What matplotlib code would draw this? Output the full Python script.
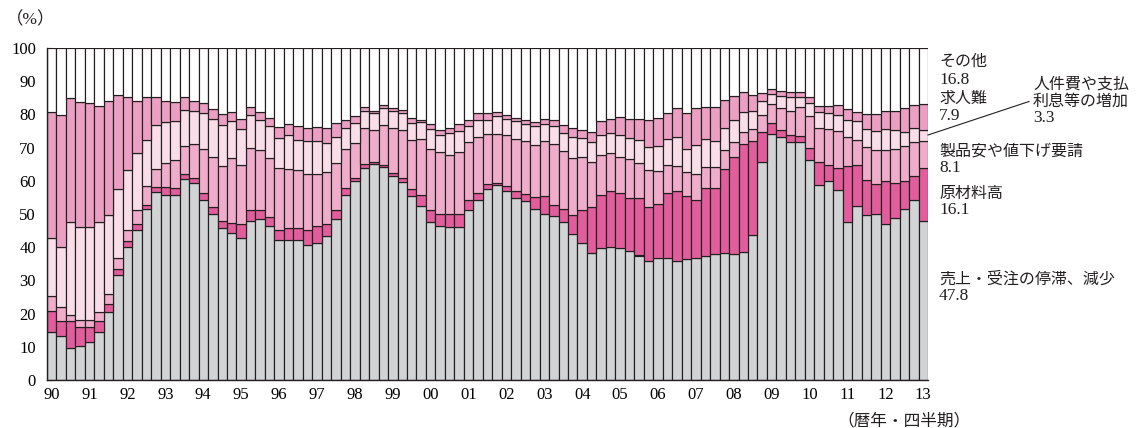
import numpy as np
import matplotlib
matplotlib.use("Agg")
import matplotlib.pyplot as plt

plt.rcParams['font.family'] = ['Liberation Serif', 'Noto Sans CJK JP', 'DejaVu Sans']

# ---- data (1990Q1 .. 2013Q1, percent) ----
year_labels = ['90', '91', '92', '93', '94', '95', '96', '97', '98', '99', '00',
               '01', '02', '03', '04', '05', '06', '07', '08', '09', '10', '11', '12', '13']

sales = [14.5, 13.3, 9.5, 10.3, 11.5, 14.5, 20.6, 31.5, 40.0, 45.2, 51.4, 56.6,
         55.8, 55.8, 60.6, 59.3, 54.2, 50.0, 45.7, 44.3, 42.9, 48.0, 48.4, 46.4,
         42.1, 42.1, 42.1, 40.6, 41.3, 43.3, 48.4, 55.6, 59.8, 63.8, 65.1, 64.1,
         61.3, 59.5, 55.3, 52.5, 47.7, 46.4, 46.0, 46.0, 51.2, 54.2, 57.5, 58.6,
         56.8, 54.7, 53.9, 51.5, 50.0, 49.5, 47.6, 43.9, 41.3, 38.3, 39.8, 40.1,
         39.8, 39.0, 37.5, 35.9, 36.6, 36.6, 35.9, 36.3, 36.6, 37.3, 37.9, 38.2,
         37.9, 38.6, 43.8, 65.6, 74.2, 73.1, 71.6, 71.6, 66.2, 58.6, 59.8, 57.3,
         47.7, 52.4, 49.7, 50.0, 46.9, 48.7, 51.5, 54.2, 47.8]

raw_material = [6.4, 4.6, 8.3, 5.6, 4.4, 3.3, 2.3, 2.0, 1.8, 1.7, 1.3, 1.5,
                2.3, 2.0, 1.4, 1.5, 2.1, 2.2, 2.2, 3.1, 4.0, 3.1, 2.8, 2.8,
                3.1, 3.6, 3.6, 4.6, 5.1, 3.6, 2.8, 2.2, 1.0, 1.4, 0.7, 0.7,
                0.9, 1.3, 2.2, 3.1, 3.5, 3.6, 4.0, 4.0, 3.0, 2.1, 1.5, 0.7,
                1.5, 2.1, 2.1, 3.7, 5.5, 3.2, 3.9, 5.8, 9.9, 13.7, 15.8, 16.9,
                16.5, 15.7, 17.2, 16.1, 16.4, 19.7, 21.1, 19.0, 17.6, 20.5, 19.9, 25.4,
                29.4, 32.5, 28.1, 9.1, 3.3, 2.1, 2.3, 1.8, 3.7, 7.1, 5.0, 6.7,
                16.8, 12.4, 10.6, 9.1, 12.9, 10.6, 8.3, 7.1, 16.1]

price_cut = [4.4, 4.0, 1.8, 2.3, 2.3, 2.8, 3.1, 3.1, 3.4, 4.2, 5.6, 5.4,
             7.2, 8.4, 8.4, 10.4, 13.3, 15.1, 16.7, 19.5, 17.9, 18.8, 18.0, 17.7,
             18.8, 17.9, 17.5, 16.9, 15.7, 15.7, 14.1, 11.8, 10.6, 10.8, 9.4, 11.9,
             13.8, 14.4, 14.9, 16.9, 18.4, 18.6, 17.7, 18.8, 17.4, 16.8, 15.2, 14.9,
             15.6, 15.9, 15.9, 15.7, 16.4, 18.5, 17.4, 17.2, 16.1, 13.7, 12.1, 11.5,
             11.0, 11.9, 10.6, 11.4, 9.9, 8.5, 7.5, 7.5, 7.9, 6.3, 6.3, 5.8,
             4.3, 3.6, 3.6, 5.1, 5.5, 6.6, 7.1, 8.8, 9.6, 10.1, 10.7, 11.0,
             8.6, 7.5, 9.8, 10.1, 9.6, 10.4, 10.6, 10.3, 8.1]

labor_cost = [17.5, 18.2, 28.0, 27.9, 27.9, 27.0, 23.6, 20.9, 18.2, 17.4, 14.1, 13.2,
              12.3, 11.7, 11.0, 9.8, 10.7, 11.4, 12.2, 11.1, 10.8, 9.9, 9.2, 9.5,
              8.9, 10.2, 9.1, 9.8, 9.8, 8.8, 7.8, 6.2, 6.0, 5.0, 5.1, 5.3,
              5.0, 5.1, 5.1, 5.2, 6.0, 5.3, 6.6, 6.1, 4.9, 5.2, 4.1, 5.2,
              4.8, 5.2, 5.3, 5.6, 5.3, 5.2, 5.4, 6.3, 5.6, 6.0, 6.2, 5.9,
              6.6, 6.3, 7.1, 6.7, 7.5, 7.9, 8.6, 6.8, 8.6, 8.6, 8.0, 6.6,
              6.6, 6.1, 5.5, 4.2, 3.1, 3.8, 4.1, 2.9, 4.0, 4.9, 4.8, 4.8,
              5.1, 5.7, 5.4, 5.7, 6.1, 5.5, 4.3, 4.2, 3.3]

recruit = [37.9, 39.7, 37.2, 37.6, 37.2, 34.9, 34.5, 28.3, 21.9, 15.6, 12.9, 8.6,
           6.4, 5.8, 3.9, 3.0, 3.0, 3.0, 3.4, 2.8, 2.9, 2.4, 2.3, 2.6,
           3.4, 3.2, 4.3, 3.9, 4.4, 4.4, 4.2, 2.4, 2.0, 1.2, 0.7, 0.7,
           0.9, 1.1, 1.3, 0.6, 1.4, 1.5, 1.5, 2.3, 1.8, 2.0, 2.0, 1.4,
           1.1, 1.1, 1.1, 1.3, 1.5, 1.8, 2.4, 2.6, 2.3, 3.0, 4.1, 4.3,
           5.3, 5.8, 6.3, 8.2, 8.6, 7.6, 8.7, 10.7, 11.1, 9.5, 10.1, 8.2,
           7.2, 5.8, 4.9, 2.4, 1.5, 1.5, 1.5, 1.5, 1.6, 1.8, 2.2, 3.0,
           3.5, 2.7, 4.7, 5.3, 5.5, 5.8, 7.1, 7.0, 7.9]

other = [19.3, 20.2, 15.2, 16.3, 16.7, 17.5, 15.9, 14.2, 14.7, 15.9, 14.7, 14.7,
         16.0, 16.3, 14.7, 16.0, 16.7, 18.3, 19.8, 19.2, 21.5, 17.8, 19.3, 21.0,
         23.7, 23.0, 23.4, 24.2, 23.7, 24.2, 22.7, 21.8, 20.6, 17.8, 19.0, 17.3,
         18.1, 18.6, 21.2, 21.7, 23.0, 24.6, 24.2, 22.8, 21.7, 19.7, 19.7, 19.2,
         20.2, 21.0, 21.7, 22.2, 21.3, 21.8, 23.3, 24.2, 24.8, 25.3, 22.0, 21.3,
         20.8, 21.3, 21.3, 21.7, 21.0, 19.7, 18.2, 19.7, 18.2, 17.8, 17.8, 15.8,
         14.6, 13.4, 14.1, 13.6, 12.4, 12.9, 13.4, 13.4, 14.9, 17.5, 17.5, 17.2,
         18.3, 19.3, 19.8, 19.8, 19.0, 19.0, 18.2, 17.2, 16.8]

series = [sales, raw_material, price_cut, labor_cost, recruit, other]
colors = ['#d1d3d5', '#e15d9b', '#efadcb', '#f9dde8', '#eba0c3', '#ffffff']

# ---- figure ----
W, H = 1136, 428
fig = plt.figure(figsize=(W / 100, H / 100), dpi=100)
ax = fig.add_axes([47 / W, 1 - 380 / H, (928 - 47) / W, (380 - 48) / H])

x = np.arange(len(sales))
bottom = np.zeros(len(sales))
for vals, c in zip(series, colors):
    v = np.array(vals)
    ax.bar(x, v, width=1.0, bottom=bottom, color=c, edgecolor='#231f20',
           linewidth=0.85, align='center', zorder=2)
    bottom = bottom + v

ax.set_xlim(-0.5, len(sales) - 0.5)
ax.set_ylim(0, 100)
ax.set_yticks(np.arange(0, 101, 10))
ax.set_xticks(np.arange(0, len(sales), 4))
ax.set_xticklabels(year_labels)
ax.tick_params(axis='y', direction='in', length=4, width=0.8, pad=8, labelsize=12)
ax.tick_params(axis='x', length=0, pad=5, labelsize=12)
for s in ['top', 'right']:
    ax.spines[s].set_visible(False)
for s in ['left', 'bottom']:
    ax.spines[s].set_color('#231f20')
    ax.spines[s].set_linewidth(1.0)
    ax.spines[s].set_zorder(3)


def ftext(px, py, s, size=11.5, ha='left'):
    fig.text(px / W, 1 - py / H, s, va='center', ha=ha, fontsize=size,
             color='#231f20')


ftext(6, 20, '（%）', size=12.5)
ftext(904, 421, '（暦年・四半期）', size=12, ha='center')

ftext(939, 61.5, 'その他')
ftext(939, 80, '16.8', size=12.5)
ftext(939, 99, '求人難')
ftext(939, 116, '7.9', size=12.5)
ftext(939, 151.5, '製品安や値下げ要請')
ftext(939, 168.5, '8.1', size=12.5)
ftext(939, 193.5, '原材料高')
ftext(939, 210, '16.1', size=12.5)
ftext(939, 280, '売上・受注の停滞、減少')
ftext(939, 296.5, '47.8', size=12.5)
ftext(1033, 85, '人件費や支払')
ftext(1033, 102, '利息等の増加')
ftext(1033, 118.5, '3.3', size=12.5)

line = plt.Line2D([928 / W, 1029 / W], [1 - 135 / H, 1 - 101.5 / H],
                  transform=fig.transFigure, color='#231f20', linewidth=0.8)
fig.add_artist(line)

fig.savefig('out.png', dpi=100)
